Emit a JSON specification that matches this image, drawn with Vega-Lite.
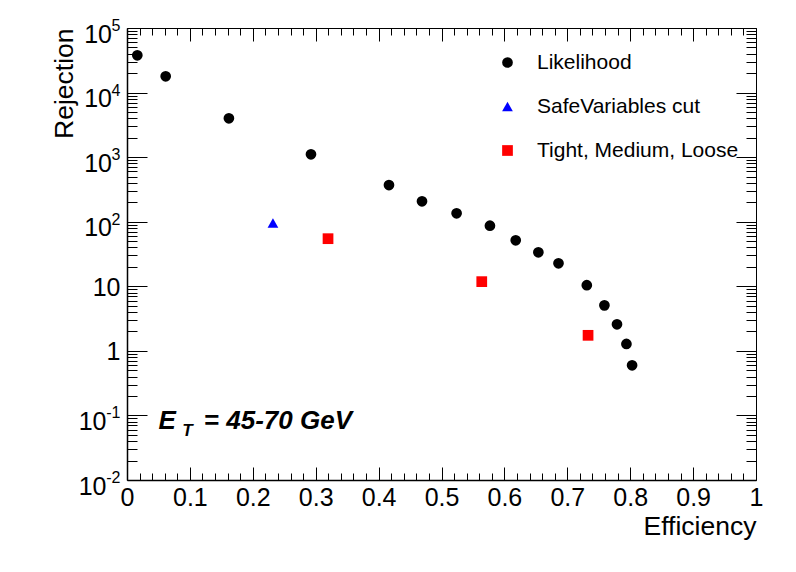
{
  "$schema": "https://vega.github.io/schema/vega-lite/v6.json",
  "width": 629,
  "height": 452,
  "autosize": {"type": "none"},
  "padding": {"left": 127, "top": 28, "right": 40, "bottom": 92},
  "background": "white",
  "config": {
    "view": {"stroke": null},
    "axis": {
      "grid": false,
      "labelFont": "Liberation Sans",
      "titleFont": "Liberation Sans",
      "labelColor": "black",
      "titleColor": "black",
      "domainColor": "black",
      "tickColor": "black",
      "titleFontWeight": "normal",
      "labelFlush": false,
      "labelOverlap": false,
      "labelBound": false,
      "tickWidth": 1
    },
    "legend": {
      "labelFont": "Liberation Sans",
      "labelFontSize": 21,
      "labelColor": "black",
      "labelLimit": 0
    }
  },
  "resolve": {"axis": {"x": "independent", "y": "independent"}},
  "layer": [
    {
      "data": {
        "values": [
          {"efficiency": 0.0164, "rejection": 37800, "method": "Likelihood"},
          {"efficiency": 0.0615, "rejection": 17870, "method": "Likelihood"},
          {"efficiency": 0.162, "rejection": 4000, "method": "Likelihood"},
          {"efficiency": 0.2925, "rejection": 1107, "method": "Likelihood"},
          {"efficiency": 0.4165, "rejection": 370, "method": "Likelihood"},
          {"efficiency": 0.469, "rejection": 207, "method": "Likelihood"},
          {"efficiency": 0.524, "rejection": 135, "method": "Likelihood"},
          {"efficiency": 0.577, "rejection": 86.7, "method": "Likelihood"},
          {"efficiency": 0.618, "rejection": 51.5, "method": "Likelihood"},
          {"efficiency": 0.654, "rejection": 33.6, "method": "Likelihood"},
          {"efficiency": 0.686, "rejection": 22.7, "method": "Likelihood"},
          {"efficiency": 0.731, "rejection": 10.4, "method": "Likelihood"},
          {"efficiency": 0.759, "rejection": 5.07, "method": "Likelihood"},
          {"efficiency": 0.779, "rejection": 2.58, "method": "Likelihood"},
          {"efficiency": 0.794, "rejection": 1.28, "method": "Likelihood"},
          {"efficiency": 0.803, "rejection": 0.597, "method": "Likelihood"},
          {"efficiency": 0.232, "rejection": 95.5, "method": "SafeVariables cut"},
          {"efficiency": 0.3196, "rejection": 54.6, "method": "Tight, Medium, Loose"},
          {"efficiency": 0.564, "rejection": 11.8, "method": "Tight, Medium, Loose"},
          {"efficiency": 0.733, "rejection": 1.74, "method": "Tight, Medium, Loose"}
        ]
      },
      "mark": {"type": "point", "filled": true, "opacity": 1, "size": 115},
      "encoding": {
        "x": {
          "field": "efficiency",
          "type": "quantitative",
          "scale": {"domain": [0, 1], "nice": false, "zero": false},
          "axis": {
            "orient": "bottom",
            "values": [0, 0.1, 0.2, 0.3, 0.4, 0.5, 0.6, 0.7, 0.8, 0.9, 1],
            "format": "~g",
            "tickSize": -13,
            "labelFontSize": 25,
            "labelPadding": 18,
            "labelBaseline": "top",
            "domainWidth": 1.5,
            "title": "Efficiency",
            "titleFontSize": 26.5,
            "titleAnchor": "end",
            "titleAlign": "right",
            "titleBaseline": "alphabetic",
            "titleY": 54
          }
        },
        "y": {
          "field": "rejection",
          "type": "quantitative",
          "scale": {"type": "log", "domain": [0.01, 100000], "nice": false},
          "axis": {
            "orient": "left",
            "values": [0.01, 0.1, 1, 10, 100, 1000, 10000, 100000],
            "labelExpr": "datum.value == 1 ? '1' : '10'",
            "tickSize": -20,
            "labelFontSize": 25,
            "labelPadding": {"condition": [{"test": "datum.value < 0.5", "value": 41}, {"test": "datum.value > 50", "value": 35.5}], "value": 27},
            "labelOffset": {"condition": {"test": "datum.value != 1 && datum.value != 10", "value": 6}, "value": 1},
            "labelBaseline": "middle",
            "domainWidth": 1.5,
            "title": "Rejection",
            "titleFontSize": 26.5,
            "titleAnchor": "end",
            "titleAngle": 270,
            "titleAlign": "right",
            "titleBaseline": "alphabetic",
            "titleX": -55,
            "titleY": 0
          }
        },
        "color": {
          "field": "method",
          "type": "nominal",
          "scale": {
            "domain": ["Likelihood", "SafeVariables cut", "Tight, Medium, Loose"],
            "range": ["#000000", "#0000ff", "#ff0000"]
          },
          "legend": {
            "orient": "none",
            "legendX": 370,
            "legendY": 24,
            "title": null,
            "padding": 0,
            "symbolSize": 115,
            "symbolStrokeWidth": 0,
            "symbolOpacity": 1,
            "labelOffset": 19,
            "rowPadding": 22,
            "labelFontSize": 21,
            "labelLimit": 0
          }
        },
        "shape": {
          "field": "method",
          "type": "nominal",
          "scale": {
            "domain": ["Likelihood", "SafeVariables cut", "Tight, Medium, Loose"],
            "range": ["circle", "triangle-up", "square"]
          },
          "legend": {
            "orient": "none",
            "legendX": 370,
            "legendY": 24,
            "title": null,
            "padding": 0,
            "symbolSize": 115,
            "symbolStrokeWidth": 0,
            "symbolOpacity": 1,
            "labelOffset": 19,
            "rowPadding": 22,
            "labelFontSize": 21,
            "labelLimit": 0
          }
        }
      }
    },
    {
      "data": {"values": [{}]},
      "mark": {"type": "text", "text": "E", "font": "Liberation Sans", "fontSize": 26, "fontStyle": "italic", "fontWeight": "bold", "align": "left", "baseline": "alphabetic", "color": "black"},
      "encoding": {
        "x": {
          "datum": 0.05,
          "type": "quantitative",
          "scale": {"domain": [0, 1], "nice": false, "zero": false},
          "axis": {
            "orient": "bottom",
            "values": [0.02, 0.04, 0.06, 0.08, 0.12, 0.14, 0.16, 0.18, 0.22, 0.24, 0.26, 0.28, 0.32, 0.34, 0.36, 0.38, 0.42, 0.44, 0.46, 0.48, 0.52, 0.54, 0.56, 0.58, 0.62, 0.64, 0.66, 0.68, 0.72, 0.74, 0.76, 0.78, 0.82, 0.84, 0.86, 0.88, 0.92, 0.94, 0.96, 0.98],
            "tickSize": -7,
            "labels": false,
            "domain": false,
            "title": null
          }
        },
        "y": {
          "datum": 0.0617,
          "type": "quantitative",
          "scale": {"type": "log", "domain": [0.01, 100000], "nice": false},
          "axis": {
            "orient": "left",
            "values": [0.02, 0.03, 0.04, 0.05, 0.06, 0.07, 0.08, 0.09, 0.2, 0.3, 0.4, 0.5, 0.6, 0.7, 0.8, 0.9, 2, 3, 4, 5, 6, 7, 8, 9, 20, 30, 40, 50, 60, 70, 80, 90, 200, 300, 400, 500, 600, 700, 800, 900, 2000, 3000, 4000, 5000, 6000, 7000, 8000, 9000, 20000, 30000, 40000, 50000, 60000, 70000, 80000, 90000],
            "tickSize": -10,
            "labels": false,
            "domain": false,
            "title": null
          }
        }
      }
    },
    {
      "data": {"values": [{}]},
      "mark": {"type": "text", "text": "T", "font": "Liberation Sans", "fontSize": 17, "fontStyle": "italic", "fontWeight": "bold", "align": "left", "baseline": "alphabetic", "color": "black"},
      "encoding": {
        "x": {
          "datum": 0.088,
          "type": "quantitative",
          "scale": {"domain": [0, 1], "nice": false, "zero": false},
          "axis": {
            "orient": "top",
            "values": [0, 0.1, 0.2, 0.3, 0.4, 0.5, 0.6, 0.7, 0.8, 0.9, 1],
            "tickSize": -13,
            "labels": false,
            "domainWidth": 1,
            "title": null
          }
        },
        "y": {
          "datum": 0.048,
          "type": "quantitative",
          "scale": {"type": "log", "domain": [0.01, 100000], "nice": false},
          "axis": {
            "orient": "right",
            "values": [0.01, 0.1, 1, 10, 100, 1000, 10000, 100000],
            "tickSize": -20,
            "labels": false,
            "domainWidth": 1,
            "title": null
          }
        }
      }
    },
    {
      "data": {"values": [{}]},
      "mark": {"type": "text", "text": "= 45-70 GeV", "font": "Liberation Sans", "fontSize": 26, "fontStyle": "italic", "fontWeight": "bold", "align": "right", "baseline": "alphabetic", "color": "black"},
      "encoding": {
        "x": {
          "datum": 0.3577,
          "type": "quantitative",
          "scale": {"domain": [0, 1], "nice": false, "zero": false},
          "axis": {
            "orient": "top",
            "values": [0.02, 0.04, 0.06, 0.08, 0.12, 0.14, 0.16, 0.18, 0.22, 0.24, 0.26, 0.28, 0.32, 0.34, 0.36, 0.38, 0.42, 0.44, 0.46, 0.48, 0.52, 0.54, 0.56, 0.58, 0.62, 0.64, 0.66, 0.68, 0.72, 0.74, 0.76, 0.78, 0.82, 0.84, 0.86, 0.88, 0.92, 0.94, 0.96, 0.98],
            "tickSize": -7,
            "labels": false,
            "domain": false,
            "title": null
          }
        },
        "y": {
          "datum": 0.0617,
          "type": "quantitative",
          "scale": {"type": "log", "domain": [0.01, 100000], "nice": false},
          "axis": {
            "orient": "right",
            "values": [0.02, 0.03, 0.04, 0.05, 0.06, 0.07, 0.08, 0.09, 0.2, 0.3, 0.4, 0.5, 0.6, 0.7, 0.8, 0.9, 2, 3, 4, 5, 6, 7, 8, 9, 20, 30, 40, 50, 60, 70, 80, 90, 200, 300, 400, 500, 600, 700, 800, 900, 2000, 3000, 4000, 5000, 6000, 7000, 8000, 9000, 20000, 30000, 40000, 50000, 60000, 70000, 80000, 90000],
            "tickSize": -10,
            "labels": false,
            "domain": false,
            "title": null
          }
        }
      }
    },
    {
      "data": {"values": [{}]},
      "mark": {"type": "text", "text": "", "fontSize": 1},
      "encoding": {
        "x": {
          "datum": 0.5,
          "type": "quantitative",
          "scale": {"domain": [0, 1], "nice": false, "zero": false},
          "axis": null
        },
        "y": {
          "datum": 1,
          "type": "quantitative",
          "scale": {"type": "log", "domain": [0.01, 100000], "nice": false},
          "axis": {
            "orient": "left",
            "values": [0.01, 0.1, 100, 1000, 10000, 100000],
            "labelExpr": "datum.value == 0.01 ? '-2' : datum.value == 0.1 ? '-1' : datum.value == 100 ? '2' : datum.value == 1000 ? '3' : datum.value == 10000 ? '4' : '5'",
            "ticks": false,
            "tickSize": 0,
            "domain": false,
            "labelFontSize": 16,
            "labelPadding": 7,
            "labelOffset": -2.5,
            "labelAlign": "right",
            "labelBaseline": "middle",
            "title": null
          }
        }
      }
    }
  ]
}
